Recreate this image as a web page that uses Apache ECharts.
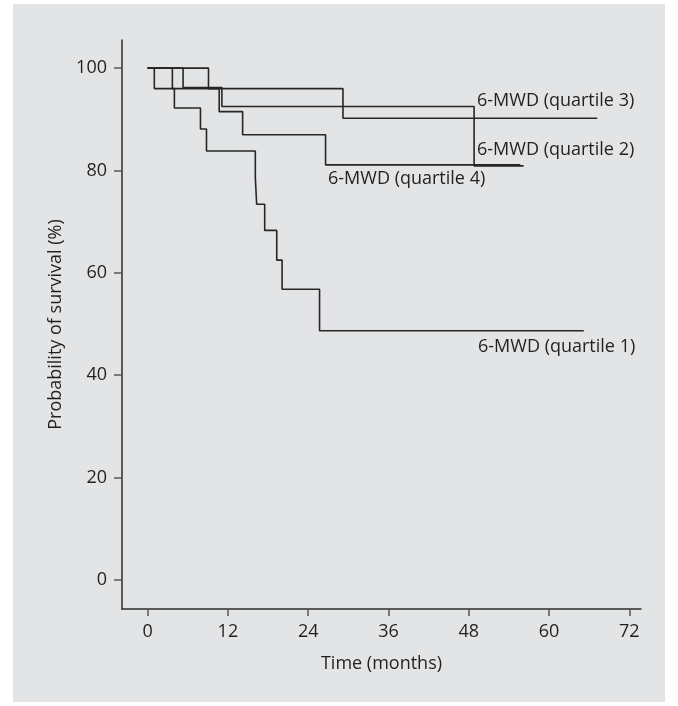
<!DOCTYPE html>
<html>
<head>
<meta charset="utf-8">
<script src="https://cdn.jsdelivr.net/npm/echarts@6/dist/echarts.min.js"></script>
<style>
	html, body { margin: 0; padding: 0; background: #ffffff; }
	#chart { width: 678px; height: 706px; }
</style>
</head>
<body>
<div id="chart"></div>
<script>
	'use strict'
	// Kaplan-Meier survival by 6-MWD quartile (month, % surviving after that month)
	var q1Months = [0, 3.7, 4.0, 7.9, 8.8, 16.1, 16.3, 17.5, 19.3, 20.1, 25.7, 65.2];
	var q1Surv = [100, 96, 92.2, 88.1, 83.8, 78.6, 73.4, 68.3, 62.5, 56.8, 48.7, 48.7];
	var q2Months = [0, 5.3, 11.1, 48.8, 56.2];
	var q2Surv = [100, 96.2, 92.5, 80.9, 80.9];
	var q3Months = [0, 1.0, 29.2, 67.2];
	var q3Surv = [100, 96, 90.2, 90.2];
	var q4Months = [0, 9.1, 10.7, 14.2, 26.6, 55.7];
	var q4Surv = [100, 96, 91.5, 87.0, 81.1, 81.1];

	var xTicks = [0, 12, 24, 36, 48, 60, 72];
	var yTicks = [0, 20, 40, 60, 80, 100];
	var seriesNames = ['6-MWD (quartile 1)', '6-MWD (quartile 2)', '6-MWD (quartile 3)', '6-MWD (quartile 4)'];

	function pairs(xs, ys) {
		return xs.map(function(x, i) { return [x, ys[i]]; });
	}

	var font = '"Open Sans", "Noto Sans", sans-serif';
	var textColor = '#231f20';
	var lineColor = '#262626';

	var curves = [
		pairs(q1Months, q1Surv),
		pairs(q2Months, q2Surv),
		pairs(q3Months, q3Surv),
		pairs(q4Months, q4Surv)
	];

	var chartdata = curves.map(function(d, i) {
		return {
			name: seriesNames[i],
			type: 'line',
			step: 'end',
			data: d,
			symbol: 'none',
			lineStyle: { color: lineColor, width: 1.6 },
			z: 3
		};
	});

	var labelStyle = function(txt, x, y) {
		return {
			type: 'text',
			left: x,
			top: y - 9,
			style: { text: txt, fill: textColor, font: '18px ' + font }
		};
	};

	var chart = echarts.init(document.getElementById('chart'), null, { renderer: 'canvas' });
	var option = {
		animation: false,
		backgroundColor: '#ffffff',
		grid: {
			left: 122,
			right: 37,
			top: 40,
			bottom: 97
		},
		xAxis: {
			type: 'value',
			min: -3.83,
			max: 73.75,
			name: 'Time (months)',
			nameLocation: 'middle',
			nameGap: 46,
			nameTextStyle: { fontFamily: font, fontSize: 18, color: textColor },
			axisLine: { onZero: false, lineStyle: { color: '#2b2b2b', width: 1.5 } },
			axisTick: { customValues: xTicks, length: 7, lineStyle: { color: '#555555', width: 1.5 } },
			axisLabel: { customValues: xTicks, margin: 14, fontFamily: font, fontSize: 18, color: textColor },
			splitLine: { show: false }
		},
		yAxis: {
			type: 'value',
			min: -5.67,
			max: 105.5,
			name: 'Probability of survival (%)',
			nameLocation: 'middle',
			nameGap: 52,
			nameTextStyle: { fontFamily: font, fontSize: 18, color: textColor },
			axisLine: { onZero: false, lineStyle: { color: '#2b2b2b', width: 1.5 } },
			axisTick: { customValues: yTicks, length: 8, lineStyle: { color: '#555555', width: 1.5 } },
			axisLabel: { customValues: yTicks, margin: 15, fontFamily: font, fontSize: 18, color: textColor },
			splitLine: { show: false }
		},
		graphic: [{
			type: 'rect',
			shape: { x: 13, y: 4, width: 652, height: 698 },
			style: { fill: '#e3e4e6' },
			z: -10
		},
			labelStyle(seriesNames[2], 477, 101),
			labelStyle(seriesNames[1], 477, 150),
			labelStyle(seriesNames[3], 328, 179),
			labelStyle(seriesNames[0], 478, 347)
		],
		series: chartdata
	};
	chart.setOption(option);
</script>
</body>
</html>
